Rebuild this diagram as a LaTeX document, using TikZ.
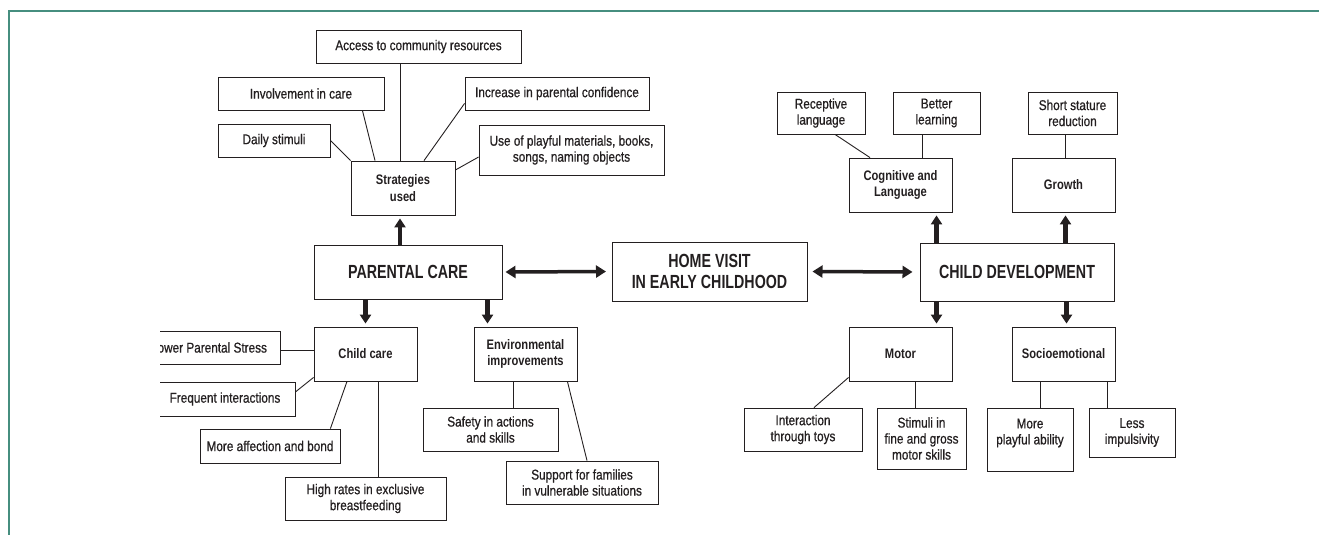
\documentclass[tikz,border=0pt]{standalone}
\usepackage{fontspec}
\setmainfont{Liberation Sans}
\newfontfamily\leaffont{Liberation Sans}[FakeStretch=0.83, FakeBold=0.7]
\newfontfamily\condbold{Liberation Sans}[FakeStretch=0.81]
\newfontfamily\headfont{Liberation Sans}[FakeStretch=0.75]
\usepackage{tikz}
\usetikzlibrary{arrows.meta, positioning, calc}
\definecolor{inkblack}{RGB}{35, 31, 32}
\definecolor{frameteal}{RGB}{70, 142, 127}
\tikzset{
  mapbox/.style={draw=inkblack, line width=0.8pt, align=center, inner sep=0pt, text=inkblack},
  leafbox/.style={mapbox, font=\leaffont\fontsize{14.2}{16}\selectfont},
  topicbox/.style={mapbox, font=\condbold\bfseries\fontsize{13.8}{16.5}\selectfont},
  hubbox/.style={mapbox, line width=1pt, font=\headfont\bfseries\fontsize{19}{21}\selectfont},
  dims/.style 2 args={minimum width=#1pt, minimum height=#2pt},
  link/.style={draw=inkblack, line width=0.9pt},
  bigarrow/.style={-{Triangle[width=11pt,length=9pt]}, line width=4.5pt, draw=inkblack},
  bothways/.style={{Triangle[width=12pt,length=10pt]}-{Triangle[width=12pt,length=10pt]}, line width=3.5pt, draw=inkblack},
}

\begin{document}
\begin{tikzpicture}[x=1pt, y=-1pt]
  \useasboundingbox (0,0) rectangle (1319,535);
  \draw[frameteal, line width=2pt] (9,535) |- (1319,11);

  \node[hubbox, dims={188}{54}] (pc) at (408,272) {PARENTAL CARE};
  \node[hubbox, dims={195}{59}] (hv) at (709.5,271.5) {HOME VISIT\\IN EARLY CHILDHOOD};
  \node[hubbox, dims={194}{58}] (cd) at (1017,272) {CHILD DEVELOPMENT};

  \node[topicbox, dims={104}{54}] (str) at (403,188) {Strategies\\used};
  \node[topicbox, dims={103}{54}] (cc) at (365.5,354) {Child care};
  \node[topicbox, dims={103}{54}] (env) at (525.5,354) {Environmental\\improvements};
  \node[topicbox, dims={103}{54}] (cog) at (900.5,185) {Cognitive and\\Language};
  \node[topicbox, dims={103}{54}] (gro) at (1063.5,185) {Growth};
  \node[topicbox, dims={103}{54}] (mot) at (900.5,354) {Motor};
  \node[topicbox, dims={103}{54}] (soc) at (1063.5,354) {Socioemotional};

  \node[leafbox, dims={205}{33}] (acc) at (418.5,46.5) {Access to community resources};
  \node[leafbox, dims={166}{33}] (inv) at (301,93.5) {Involvement in care};
  \node[leafbox, dims={184}{33}] (inc) at (557,93.5) {Increase in parental confidence};
  \node[leafbox, dims={112}{33}] (dai) at (274,140.5) {Daily stimuli};
  \node[leafbox, dims={185}{50}] (use) at (571.5,150) {Use of playful materials, books,\\songs, naming objects};
  \node[leafbox, dims={88}{42}] (rec) at (821,113) {Receptive\\language};
  \node[leafbox, dims={87}{42}] (bet) at (936.5,113) {Better\\learning};
  \node[leafbox, dims={89}{42}] (sho) at (1072.5,113) {Short stature\\reduction};
  \begin{scope}
    \clip (160,0) rectangle (1319,535);
    \node[leafbox, dims={142}{33}] (low) at (209,347.5) {Lower Parental Stress};
    \node[leafbox, dims={140}{34}] (fre) at (225,399) {Frequent interactions};
  \end{scope}
  \node[leafbox, dims={140}{34}] (aff) at (270,446) {More affection and bond};
  \node[leafbox, dims={161}{43}] (hig) at (365.5,498.5) {High rates in exclusive\\breastfeeding};
  \node[leafbox, dims={135}{43}] (saf) at (490.5,429.5) {Safety in actions\\and skills};
  \node[leafbox, dims={152}{43}] (sup) at (582,482.5) {Support for families\\in vulnerable situations};
  \node[leafbox, dims={118}{43}] (int) at (803,429.5) {Interaction\\through toys};
  \node[leafbox, dims={89}{61}] (sti) at (921.5,438.5) {Stimuli in\\fine and gross\\motor skills};
  \node[leafbox, dims={86}{63}] (mpa) at (1030,439.5) {More\\playful ability\\ \mbox{}};
  \node[leafbox, dims={86}{49}] (les) at (1132,432.5) {Less\\impulsivity};

  \draw[bigarrow, shorten >=3pt] ([xshift=-8pt]pc.north) -- ([xshift=-8pt]pc.north |- str.south);
  \draw[bigarrow, shorten >=3pt] (cc.north |- pc.south) -- (cc.north);
  \draw[bigarrow, shorten >=3pt] ([xshift=-38pt]env.north |- pc.south) -- ([xshift=-38pt]env.north);
  \draw[bigarrow, shorten >=3pt] ([xshift=36pt]cog.south |- cd.north) -- ([xshift=36pt]cog.south);
  \draw[bigarrow, shorten >=3pt] ([xshift=2pt]gro.south |- cd.north) -- ([xshift=2pt]gro.south);
  \draw[bigarrow, shorten >=3pt] ([xshift=36pt]mot.north |- cd.south) -- ([xshift=36pt]mot.north);
  \draw[bigarrow, shorten >=3pt] ([xshift=3pt]soc.north |- cd.south) -- ([xshift=3pt]soc.north);
  \draw[bothways, shorten <=3pt, shorten >=5.5pt] (pc.east) -- (hv.west);
  \draw[bothways, shorten <=5pt, shorten >=7pt] (hv.east) -- (cd.west);

  \draw[link] (dai.east) -- (str.north west);
  \draw[link] ([xshift=-22pt]inv.south east) -- ([xshift=-28pt]str.north);
  \draw[link] ([xshift=-3pt]str.north) -- ([xshift=-3pt]str.north |- acc.south);
  \draw[link] ([yshift=7pt]inc.south west) -- ([xshift=21pt]str.north);
  \draw[link] ([yshift=-7pt]use.west) -- ([yshift=18pt]str.east);
  \draw[link] ([yshift=-3pt]low.east) -- ([yshift=-3pt]low.east -| cc.west);
  \draw[link] ([yshift=7pt]fre.east) -- ([yshift=4pt]cc.south west);
  \draw[link] ([xshift=-10pt]aff.north east) -- ([xshift=-18.5pt]cc.south);
  \draw[link] ([xshift=12.5pt]cc.south) -- ([xshift=12.5pt]cc.south |- hig.north);
  \draw[link] ([xshift=-12.5pt]env.south) -- ([xshift=-12.5pt]env.south |- saf.north);
  \draw[link] ([xshift=-10pt]env.south east) -- ([xshift=5pt]sup.north);
  \draw[link] ([xshift=14pt]rec.south) -- ([xshift=-30.5pt]cog.north);
  \draw[link] ([xshift=-14pt]bet.south) -- ([xshift=-14pt]bet.south |- cog.north);
  \draw[link] ([xshift=-7.5pt]sho.south) -- ([xshift=-7.5pt]sho.south |- gro.north);
  \draw[link] ([yshift=4pt]mot.south west) -- ([xshift=11pt]int.north);
  \draw[link] ([xshift=14.5pt]mot.south) -- ([xshift=14.5pt]mot.south |- sti.north);
  \draw[link] ([xshift=-23pt]soc.south) -- ([xshift=-23pt]soc.south |- mpa.north);
  \draw[link] ([xshift=43.5pt]soc.south) -- ([xshift=43.5pt]soc.south |- les.north);
\end{tikzpicture}
\end{document}
